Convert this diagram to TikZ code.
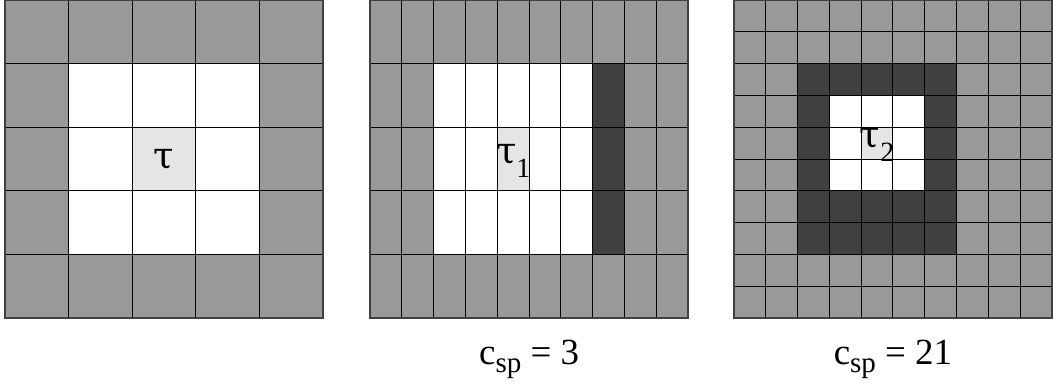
\documentclass[tikz,border=0pt]{standalone}
\usepackage{fontspec}
\setmainfont{Liberation Serif}
\newfontfamily\greekfont{DejaVu Serif}
\tikzset{
  outercell/.style={fill=black!40},
  ring/.style={fill=black!75},
  seedcell/.style={fill=black!10},
  cellgrid/.style={black,line width=0.45pt},
  rim/.style={black!75,line width=0.9pt},
  taulabel/.style={font=\fontsize{16.5}{19}\selectfont,inner sep=0pt},
  csp/.style={font=\fontsize{16.5}{19}\selectfont}
}
\newcommand{\lowsub}[1]{\raisebox{-0.38em}{\fontsize{12.5}{14}\selectfont #1}}
\newcommand{\sptext}{\raisebox{-0.22em}{\fontsize{13}{15}\selectfont sp}}
\begin{document}
\begin{tikzpicture}
\useasboundingbox (0,0) rectangle (16.557,6.053);
\foreach \dx in {0.08, 5.82, 11.54}
  \fill[outercell] (\dx,1.05) rectangle ++(5,5);
% left panel
\fill[white] (1.08,2.05) rectangle ++(3,3);
\fill[seedcell] (2.08,3.05) rectangle ++(1,1);
% middle panel
\fill[white] (6.82,2.05) rectangle ++(2.5,3);
\fill[ring] (9.32,2.05) rectangle ++(0.5,3);
\fill[seedcell] (7.82,3.05) rectangle ++(0.5,1);
% right panel
\fill[ring] (12.54,2.05) rectangle ++(2.5,3);
\fill[white] (13.04,3.05) rectangle ++(1.5,1.5);
\fill[seedcell] (13.54,3.55) rectangle ++(0.5,0.5);
\foreach \dx/\sx/\sy in {0.08/1/1, 5.82/0.5/1, 11.54/0.5/0.5} {
  \draw[cellgrid,shift={(\dx,1.05)},xstep=\sx,ystep=\sy] (0,0) grid (5,5);
  \draw[rim] (\dx,1.05) rectangle ++(5,5);
}
\node[taulabel] (tau) at (2.58,3.55) {\greekfont τ};
\node[taulabel] (tauone) at (8.07,3.52) {{\greekfont τ}\lowsub{1}};
\node[taulabel] (tautwo) at (13.79,3.78) {{\greekfont τ}\lowsub{2}};
\node[csp] (cspa) at (8.32,0.40) {c\sptext{} = 3};
\node[csp] (cspb) at (14.04,0.40) {c\sptext{} = 21};
\end{tikzpicture}
\end{document}
